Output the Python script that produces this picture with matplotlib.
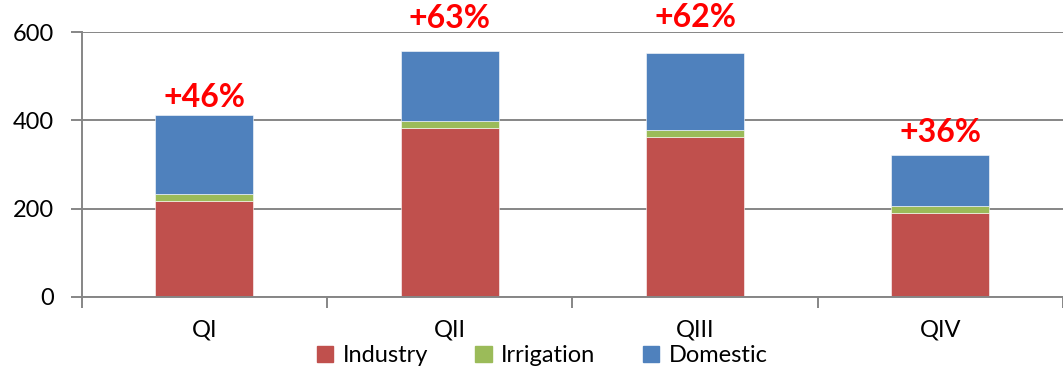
import matplotlib
matplotlib.use("Agg")
import matplotlib.pyplot as plt
from matplotlib.patches import Patch

# water demand by quarter (stacked by sector)
quarters = ["QI", "QII", "QIII", "QIV"]
industry = [218, 383, 363, 191]
irrigation = [15, 15, 15, 14]
domestic = [179, 160, 174, 117]
growth = ["+46%", "+63%", "+62%", "+36%"]

# label lift above each bar, in pixels
label_lift = [8, 23, 26, 13]

RED, GREEN, BLUE = "#C0504D", "#9BBB59", "#4F81BD"
GRID = "#868686"

plt.rcParams["font.family"] = ["Lato", "DejaVu Sans"]

fig = plt.figure(figsize=(10.63, 3.73), dpi=100)
ax = fig.add_axes([0.0769, 0.2038, 0.9231, 0.7102])

x = range(len(quarters))
w = 0.4
bot2 = industry
bot3 = [a + b for a, b in zip(industry, irrigation)]
totals = [a + b for a, b in zip(bot3, domestic)]
ax.bar(x, industry, w, color=RED, edgecolor="white", linewidth=0.4, zorder=2)
ax.bar(x, irrigation, w, bottom=bot2, color=GREEN, edgecolor="white", linewidth=0.4, zorder=2)
ax.bar(x, domestic, w, bottom=bot3, color=BLUE, edgecolor="white", linewidth=0.4, zorder=2)

for i, (t, g) in enumerate(zip(totals, growth)):
    ax.annotate(g, (i, t), xytext=(0, label_lift[i]), textcoords="offset pixels",
                ha="center", va="baseline", color="red", fontsize=23,
                fontweight="bold", annotation_clip=False, zorder=4)

ax.set_xlim(-0.5, len(quarters) - 0.5)
ax.set_ylim(0, 600)
ax.set_yticks([0, 200, 400, 600])
ax.yaxis.grid(True, color=GRID, lw=1.4, zorder=0)
ax.set_axisbelow(True)

ax.set_xticks(list(x))
ax.set_xticklabels(quarters, fontsize=17)
ax.set_xticks([i - 0.5 for i in range(len(quarters) + 1)], minor=True)
ax.tick_params(axis="x", which="major", length=0, pad=16)
ax.tick_params(axis="x", which="minor", length=8, width=1.4, color=GRID, direction="out")
ax.tick_params(axis="y", length=8, width=1.4, color=GRID, direction="out",
               labelsize=17, pad=12)

for s in ["top", "right"]:
    ax.spines[s].set_visible(False)
for s in ["left", "bottom"]:
    ax.spines[s].set_color(GRID)
    ax.spines[s].set_linewidth(1.4)

handles = [Patch(color=RED, label="Industry"),
           Patch(color=GREEN, label="Irrigation"),
           Patch(color=BLUE, label="Domestic")]
fig.legend(handles=handles, loc="upper center", bbox_to_anchor=(0.51, 0.112),
           ncol=3, frameon=False, fontsize=17, handlelength=0.7,
           handleheight=0.7, handletextpad=0.4, columnspacing=2.0,
           borderpad=0.1)

fig.savefig("out.png", dpi=100)
